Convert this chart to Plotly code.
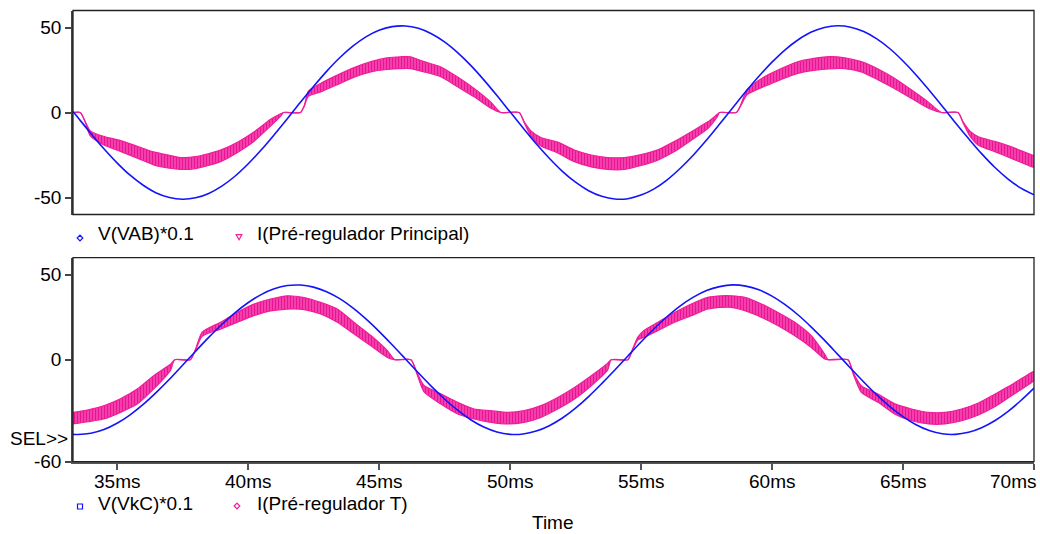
import plotly.graph_objects as go

W, H = 1040, 534

# ---------------- data ----------------
t_grid = [33.32, 33.5, 34.0, 34.5, 35.0, 35.5, 36.0, 36.5, 37.0, 37.5, 38.0, 38.5, 39.0, 39.5,
          40.0, 40.5, 41.0, 41.5, 42.0, 42.5, 43.0, 43.5, 44.0, 44.5, 45.0, 45.5, 46.0, 46.5,
          47.0, 47.5, 48.0, 48.5, 49.0, 49.5, 50.0, 50.5, 51.0, 51.5, 52.0, 52.5, 53.0, 53.5,
          54.0, 54.5, 55.0, 55.5, 56.0, 56.5, 57.0, 57.5, 58.0, 58.5, 59.0, 59.5, 60.0, 60.5,
          61.0, 61.5, 62.0, 62.5, 63.0, 63.5, 64.0, 64.5, 65.0, 65.5, 66.0, 66.5, 67.0, 67.5,
          68.0, 68.5, 69.0, 69.5, 70.0]

v_vab = [0.6, -2.8, -12.3, -21.3, -29.6, -36.9, -42.8, -47.3, -50.0, -51.0, -50.2, -47.6, -43.3,
         -37.5, -30.3, -22.1, -13.1, -3.7, 6.0, 15.3, 24.2, 32.2, 39.0, 44.5, 48.4, 50.5, 50.9,
         49.5, 46.3, 41.5, 35.2, 27.7, 19.2, 10.0, 0.4, -9.1, -18.4, -26.9, -34.6, -41.0, -46.0,
         -49.3, -50.9, -50.7, -48.6, -44.9, -39.6, -32.8, -25.0, -16.2, -6.8, 2.8, 12.3, 21.3,
         29.6, 36.9, 42.8, 47.3, 50.0, 51.0, 50.2, 47.6, 43.3, 37.5, 30.3, 22.1, 13.1, 3.7, -6.0,
         -15.3, -24.2, -32.2, -39.0, -44.5, -48.4]

v_vkc = [-43.9, -44.0, -43.3, -41.1, -37.4, -32.4, -26.3, -19.2, -11.5, -3.3, 5.0, 13.1, 20.7,
         27.6, 33.5, 38.3, 41.7, 43.6, 43.9, 42.7, 40.0, 35.9, 30.5, 24.0, 16.7, 8.8, 0.6, -7.7,
         -15.7, -23.1, -29.7, -35.3, -39.6, -42.5, -43.9, -43.7, -42.0, -38.8, -34.3, -28.5,
         -21.7, -14.1, -6.1, 2.2, 10.4, 18.2, 25.4, 31.7, 36.8, 40.7, 43.0, 44.0, 43.3, 41.1,
         37.4, 32.4, 26.3, 19.2, 11.5, 3.3, -5.0, -13.1, -20.7, -27.6, -33.5, -38.3, -41.7,
         -43.6, -43.9, -42.7, -40.0, -35.9, -30.5, -24.0, -16.7]

# I(Pré-regulador Principal): ripple band, upper / lower edge
t_ip = [33.32, 33.6, 33.8, 33.98, 34.48, 35.13, 35.8, 36.4, 37.0, 37.42, 38.0, 38.95, 39.6,
        40.22, 40.86, 41.24, 41.36, 42.0, 42.15, 42.3, 42.77, 43.41, 44.05, 44.69, 45.3, 45.83,
        46.2, 46.72, 47.36, 48.0, 48.63, 49.27, 49.65, 50.35, 50.55, 50.8, 51.18, 51.82, 52.46,
        53.1, 53.73, 54.37, 55.0, 55.64, 56.28, 56.92, 57.55, 57.9, 58.0, 58.64, 58.8, 59.05,
        59.68, 60.31, 60.95, 61.6, 62.2, 62.78, 63.41, 64.05, 64.69, 65.33, 65.97, 66.47, 67.1,
        67.3, 67.55, 67.88, 68.5, 69.14, 69.9, 70.0]
ip_hi = [0, 0, -5.7, -10.8, -14.0, -16.5, -20.0, -23.2, -25.2, -26.5, -26.0, -22.1, -17.5,
         -11.5, -4.0, -0.7, 0, 0, 4.3, 12.5, 17.1, 22.0, 26.4, 29.9, 32.1, 32.8,
         32.8, 29.9, 26.8, 20.9, 14.2, 6.1, 0, 0, -5.7, -10.8, -14.7, -17.4, -22.1,
         -25.0, -26.5, -26.5, -24.8, -22.0, -17.0, -11.3, -5.5, -1.2, 0, 0, 4.3, 13.5,
         20.8, 25.6, 29.7, 31.8, 32.9, 32.2, 29.9, 25.6, 20.0, 13.2, 6.1, 0, 0,
         -5.7, -10.8, -14.3, -17.0, -20.2, -24.9, -25.3]
ip_lo = [0, 0, -6.3, -13.8, -19.0, -22.9, -27.0, -30.8, -32.8, -33.5, -33.0, -28.9, -23.5,
         -17.1, -8.0, -2.3, 0, 0, 3.7, 9.5, 12.1, 16.4, 20.8, 23.9, 25.3, 25.8,
         25.8, 23.9, 21.0, 15.1, 9.2, 2.5, 0, 0, -6.3, -13.8, -19.7, -23.8, -28.9,
         -32.0, -33.5, -33.5, -31.2, -28.0, -23.0, -16.3, -9.5, -2.8, 0, 0, 3.7, 10.5,
         15.2, 19.2, 22.9, 24.8, 25.7, 25.8, 23.9, 19.2, 14.0, 8.2, 2.5, 0, 0,
         -6.3, -13.8, -19.3, -23.0, -27.0, -31.9, -32.3]

# I(Pré-regulador T): ripple band, upper / lower edge
t_it = [33.32, 33.9, 34.49, 35.13, 35.77, 36.4, 37.04, 37.2, 37.8, 38.0, 38.25, 38.95, 39.6,
        40.22, 40.86, 41.5, 42.14, 42.77, 43.41, 44.05, 44.69, 45.32, 45.6, 46.22, 46.45, 46.72,
        47.36, 48.0, 48.63, 49.27, 49.91, 50.54, 51.18, 51.82, 52.46, 53.1, 53.73, 53.86, 54.5,
        54.65, 54.88, 55.1, 55.64, 56.28, 56.92, 57.55, 58.06, 58.45, 58.96, 59.6, 60.23, 60.87,
        61.5, 62.01, 62.14, 62.9, 63.1, 63.41, 64.05, 64.69, 65.33, 65.97, 66.6, 67.24, 67.88,
        68.5, 69.14, 69.9, 70.0]
it_hi = [-31.0, -29.5, -27.1, -23.0, -17.3, -9.4, -2.7, 0, 0, 6.3, 16.2, 22.0, 27.9,
         32.7, 35.7, 37.6, 36.5, 33.7, 29.8, 21.9, 14.2, 5.3, 0, 0, -7.5, -15.2,
         -20.1, -25.1, -29.0, -30.0, -31.0, -30.0, -27.0, -22.2, -16.3, -9.4, -2.0, 0, 0,
         5.3, 13.3, 17.1, 22.0, 27.8, 32.8, 36.7, 37.6, 37.6, 36.7, 32.8, 27.8, 22.0,
         14.1, 3.3, 0, 0, -7.5, -15.3, -20.2, -26.0, -29.0, -31.0, -31.0, -29.0, -25.5,
         -20.3, -14.8, -7.5, -6.8]
it_lo = [-37.8, -36.5, -34.9, -31.0, -26.1, -17.2, -6.3, 0, 0, 5.7, 13.8, 18.0, 22.1,
         25.9, 28.7, 29.8, 29.5, 26.9, 22.0, 15.1, 8.2, 1.3, 0, 0, -8.5, -19.0,
         -26.1, -31.9, -34.9, -36.9, -37.8, -36.9, -33.9, -29.0, -23.1, -15.3, -6.0, 0, 0,
         4.7, 11.7, 13.1, 17.1, 22.0, 25.9, 29.8, 30.8, 30.8, 28.8, 24.9, 20.0, 14.1,
         7.2, 0.4, 0, 0, -8.5, -19.2, -25.1, -32.0, -35.9, -37.8, -37.8, -35.9, -32.5,
         -27.7, -21.2, -13.5, -12.4]

names_top = ["V(VAB)*0.1", "I(Pré-regulador Principal)"]
names_bot = ["V(VkC)*0.1", "I(Pré-regulador T)"]
x_tickvals = [35, 40, 45, 50, 55, 60, 65, 70]
x_ticktext = ["35ms", "40ms", "45ms", "50ms", "55ms", "60ms", "65ms", "70ms"]
y1_tickvals, y1_ticktext = [50, 0, -50], ["50", "0", "-50"]
y2_tickvals, y2_ticktext = [50, 0, -60], ["50", "0", "-60"]

# ---------------- styling ----------------
BLUE = "rgb(20,20,250)"
PINK = "rgb(240,30,155)"
PINK_BG = "rgb(246,95,185)"
PINK_FG = "rgb(236,18,148)"
FONT = "Liberation Sans, Arial, sans-serif"
FS = 19
ML, MR = 73, 6

fig = go.Figure()


def band(t, lo, hi, xa, ya, name):
    fig.add_trace(go.Scatter(x=t, y=lo, mode="lines", xaxis=xa, yaxis=ya,
                             line=dict(color=PINK, width=1.2, shape="spline", smoothing=0.6),
                             showlegend=False, hoverinfo="skip"))
    fig.add_trace(go.Scatter(x=t, y=hi, mode="lines", xaxis=xa, yaxis=ya, name=name,
                             line=dict(color=PINK, width=1.2, shape="spline", smoothing=0.6),
                             fill="tonexty", fillcolor=PINK_BG,
                             fillpattern=dict(shape="|", fgcolor=PINK_FG, bgcolor=PINK_BG,
                                              size=3, solidity=0.6),
                             showlegend=False))


band(t_ip, ip_lo, ip_hi, "x", "y", names_top[1])
fig.add_trace(go.Scatter(x=t_grid, y=v_vab, mode="lines", xaxis="x", yaxis="y", name=names_top[0],
                         line=dict(color=BLUE, width=1.6, shape="spline"), showlegend=False))
band(t_it, it_lo, it_hi, "x2", "y2", names_bot[1])
fig.add_trace(go.Scatter(x=t_grid, y=v_vkc, mode="lines", xaxis="x2", yaxis="y2", name=names_bot[0],
                         line=dict(color=BLUE, width=1.6, shape="spline"), showlegend=False))

XR = [33.32, 70.0]
top_dom = [1 - 214.5 / H, 1 - 10.5 / H]
bot_dom = [1 - 461.7 / H, 1 - 257.7 / H]

yax = dict(range=[-60, 60], ticks="outside", ticklen=6, tickwidth=1.5, tickcolor="#444",
           showline=True, linecolor="#444", linewidth=1.5, showgrid=False, zeroline=False,
           automargin=False, tickfont=dict(family=FONT, size=FS, color="black"), fixedrange=True)

fig.update_layout(
    template="none",
    width=W, height=H, margin=dict(l=ML, r=MR, t=0, b=0, autoexpand=False),
    paper_bgcolor="white", plot_bgcolor="white",
    font=dict(family=FONT, size=FS, color="black"),
    showlegend=False,
    xaxis=dict(domain=[0, 1], range=XR, anchor="y", showticklabels=False, ticks="",
               showline=False, showgrid=False, zeroline=False, automargin=False),
    yaxis=dict(domain=top_dom, anchor="x", tickvals=y1_tickvals, ticktext=y1_ticktext, **yax),
    xaxis2=dict(domain=[0, 1], range=XR, anchor="y2", tickvals=x_tickvals, showticklabels=False,
                ticks="outside", ticklen=6, tickwidth=1.5, tickcolor="#555",
                showline=True, linecolor="#555", linewidth=2, showgrid=False, zeroline=False,
                automargin=False),
    yaxis2=dict(domain=bot_dom, anchor="x2", tickvals=y2_tickvals, ticktext=y2_ticktext, **yax),
)

shapes = []
for xr, yr in (("x domain", "y domain"), ("x2 domain", "y2 domain")):
    shapes.append(dict(type="rect", xref=xr, yref=yr, x0=0, x1=1, y0=0, y1=1,
                       line=dict(color="#222", width=1.3), layer="above"))


def px(x):
    # page pixel -> paper fraction (paper spans the plot area between the margins)
    return (x - ML) / (W - ML - MR)


def py(y):
    return 1 - y / H


def marker_path(kind, cx, cy, r=2.8):
    if kind == "diamond":
        pts = [(cx - r, cy), (cx, cy - r), (cx + r, cy), (cx, cy + r)]
    elif kind == "square":
        pts = [(cx - r + 0.3, cy - r + 0.3), (cx + r - 0.3, cy - r + 0.3),
               (cx + r - 0.3, cy + r - 0.3), (cx - r + 0.3, cy + r - 0.3)]
    else:  # triangle down
        pts = [(cx - r, cy - r + 0.5), (cx + r, cy - r + 0.5), (cx, cy + r)]
    return "M " + " L ".join(f"{px(a):.5f},{py(b):.5f}" for a, b in pts) + " Z"


legend_items = [
    ("diamond", BLUE, 80, 238, names_top[0], 96, 234),
    ("triangle", PINK, 239, 237, names_top[1], 255, 234),
    ("square", BLUE, 80, 506.5, names_bot[0], 96, 503.5),
    ("diamond", PINK, 237, 506, names_bot[1], 255, 503.5),
]
annotations = []
for kind, col, mx, my, txt, tx, ty in legend_items:
    shapes.append(dict(type="path", xref="paper", yref="paper", path=marker_path(kind, mx, my),
                       line=dict(color=col, width=1.2), fillcolor="rgba(0,0,0,0)"))
    annotations.append(dict(x=px(tx), y=py(ty), xref="paper", yref="paper", text=txt,
                            showarrow=False, xanchor="left", yanchor="middle",
                            font=dict(family=FONT, size=FS, color="black")))

# x tick labels (placed on the data axis; the last one is right-aligned at the edge)
for i, (v, lab) in enumerate(zip(x_tickvals, x_ticktext)):
    last = i == len(x_tickvals) - 1
    annotations.append(dict(x=v, y=py(481), xref="x2", yref="paper", text=lab,
                            showarrow=False, xanchor="right" if last else "center",
                            xshift=4 if last else 0, yanchor="middle",
                            font=dict(family=FONT, size=FS, color="black")))

annotations.append(dict(x=px(70), y=py(438), xref="paper", yref="paper", text="SEL>>",
                        showarrow=False, xanchor="right", yanchor="middle",
                        font=dict(family=FONT, size=FS, color="black")))
annotations.append(dict(x=px(553), y=py(522), xref="paper", yref="paper", text="Time",
                        showarrow=False, xanchor="center", yanchor="middle",
                        font=dict(family=FONT, size=FS, color="black")))

fig.update_layout(shapes=shapes, annotations=annotations)

fig.write_html("out.html", config={"displayModeBar": False})
